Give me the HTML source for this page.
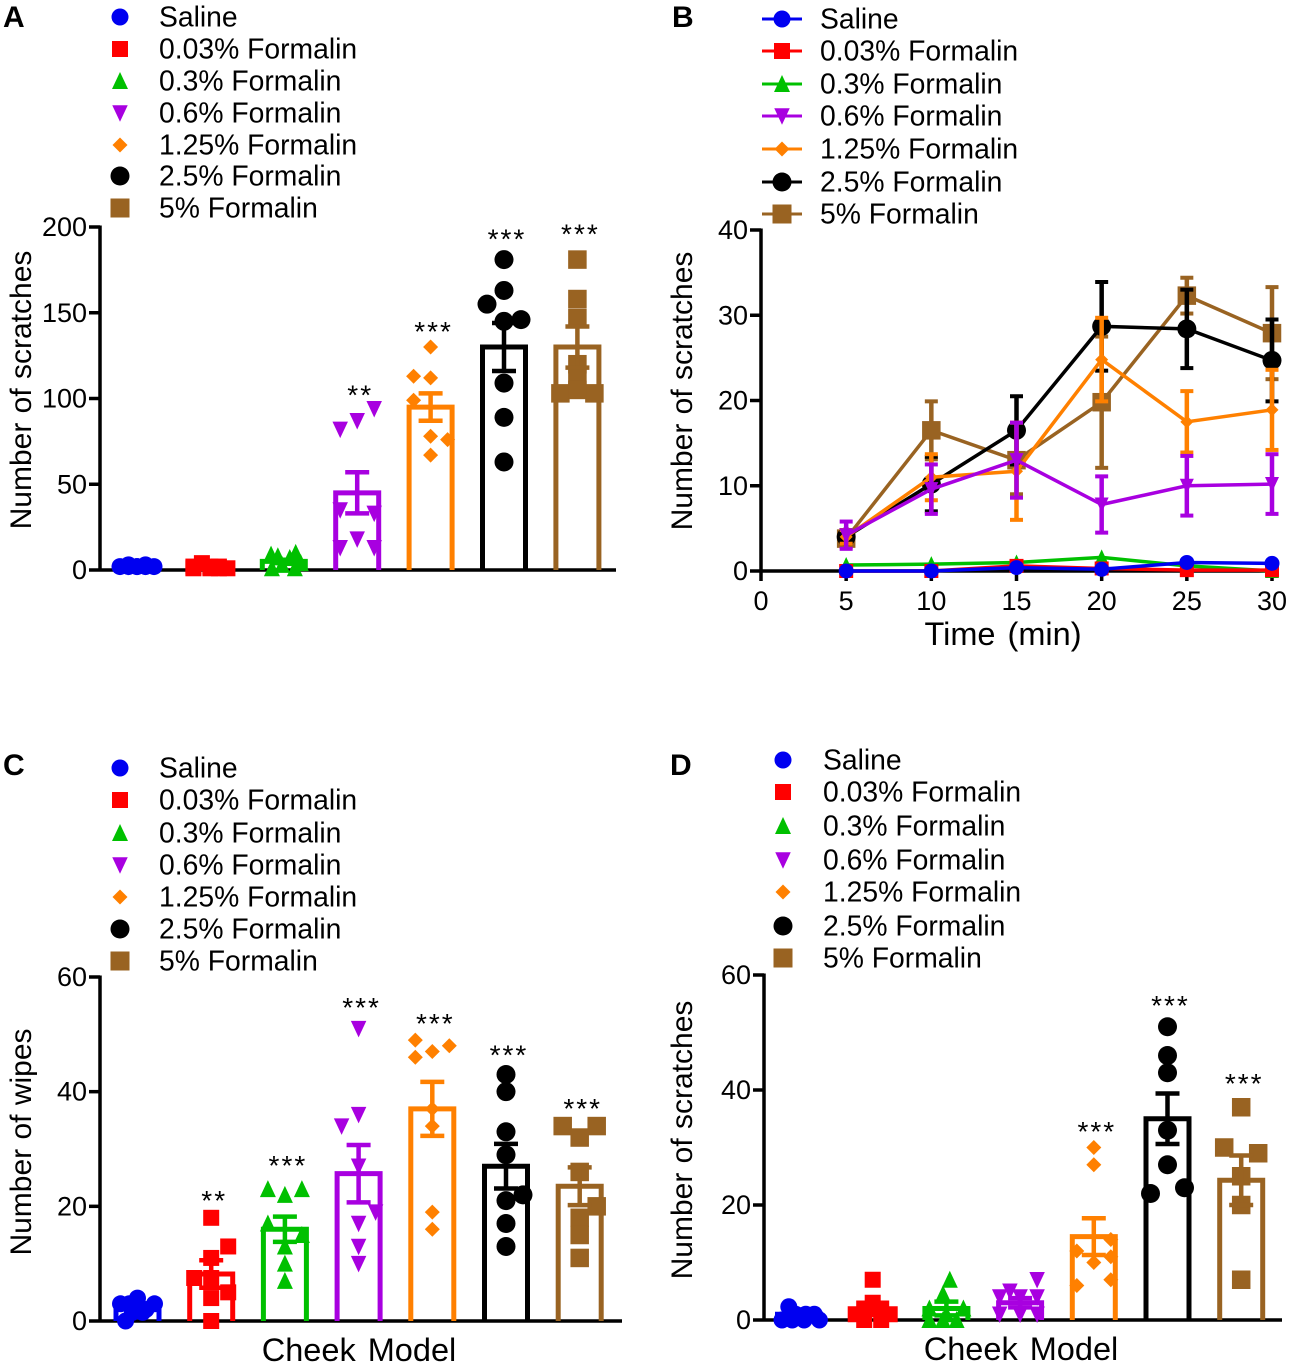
<!DOCTYPE html>
<html lang="en">
<head>
<meta charset="utf-8">
<title>Formalin dose response</title>
<style>
html,body{margin:0;padding:0;background:#fff;}
svg{display:block;font-family:"Liberation Sans",Arial,sans-serif;}
</style>
</head>
<body>
<svg id="figure" xmlns="http://www.w3.org/2000/svg" width="1299" height="1372" viewBox="0 0 1299 1372">
  <rect x="0" y="0" width="1299" height="1372" fill="#fff"/>
  <g id="panel-a"></g>
  <g id="panel-b"></g>
  <g id="panel-c"></g>
  <g id="panel-d"></g>
</svg>
<script>
// ---------- shared categories ----------
const categories = ["Saline","0.03% Formalin","0.3% Formalin","0.6% Formalin","1.25% Formalin","2.5% Formalin","5% Formalin"];

// ---------- panel A ----------
const panelAMeans = [2, 2, 5, 45, 95, 130, 130];
const panelASems = [0.3, 0.5, 1, 12, 8, 14, 12];
const panelAPoints = [
  [2,3,2,3,2,2,2,2],
  [4,2,2,2,1,1,1,1],
  [9,8,7,10,4,3,1,1],
  [94,87,82,35,33,18,13,13],
  [130,113,112,99,78,76,67],
  [181,163,155,145,146,109,89,63],
  [181,158,147,120,112,103,103,105]
];
const panelASlots = [
  [-1,-0.5,0,0.5,1,-0.5,0,0.5],
  [-0.5,-1,0,0.5,1,-1,0,0.5],
  [-0.75,-0.35,0.35,0.7,1,-0.1,-0.7,0.65],
  [1,0,-1,-1,1,0,-1,1],
  [0,-1,0,-1,0,1,0],
  [0,0,-1,0,1,0,0,0],
  [0,0,0,0,0,-1,1,0]
];
const panelAStarLabels = ["","","","**","***","***","***"];
const panelAStarLevels = [0,0,0,104,141,195,198];
const panelATicks = [0,50,100,150,200];

// ---------- panel B ----------
const timePoints = [5,10,15,20,25,30];
const timeTicks = [0,5,10,15,20,25,30];
const panelBTicks = [0,10,20,30,40];
const panelBMeans = [
  [0,0,0.4,0.2,1,0.9],
  [0,0,0.6,0.3,0.1,0.1],
  [0.7,0.8,1,1.6,0.6,0],
  [4.2,9.6,13,7.8,10,10.2],
  [4,11,11.7,24.8,17.5,18.9],
  [4,10.2,16.5,28.7,28.4,24.7],
  [3.8,16.5,13,19.8,32.3,27.9]
];
const panelBSems = [
  [0,0,0,0,0,0],
  [0,0,0,0,0,0],
  [0,0,0,0,0,0],
  [1.6,2.9,4.4,3.3,3.5,3.5],
  [0.8,2.7,5.7,4.9,3.6,4.7],
  [0.8,3.2,4,5.2,4.6,4.8],
  [1,3.4,4,7.7,2.1,5.4]
];

// ---------- panel C ----------
const panelCMeans = [2.5, 8.2, 16, 25.7, 37, 27, 23.5];
const panelCSems = [0.5, 2.4, 2.2, 5, 4.7, 3.9, 3.3];
const panelCPoints = [
  [4,3,3,3,2,1.5,1.5,0],
  [18,13,11,7.5,7.5,5,4,0],
  [23,23,22,17,15,13,10,7],
  [51,36,34,27,19,17,13,10],
  [49,48,47,46,37,34,19,16],
  [43,40,33,29,22,21,17,13],
  [34,34,32,26,20,18,15,11]
];
const panelCSlots = [
  [0,-1,1,-0.5,0.5,-0.3,0.3,-0.7],
  [0,1,0,-1,0,1,0,0],
  [-1,1,0,-1,1,0,0,0],
  [0,0,-1,0,1,0,0,0],
  [-1,1,0,-1,0,0,0,0],
  [0,0,0,0,1,0,0,0],
  [-1,1,0,0,1,0,0,0]
];
const panelCStarLabels = ["","**","***","***","***","***","***"];
const panelCStarLevels = [0,21.6,27.7,55.3,52.5,47,37.7];
const panelCTicks = [0,20,40,60];

// ---------- panel D ----------
const panelDMeans = [1, 1.5, 2, 3, 14.5, 35, 24.3];
const panelDSems = [0.3, 0.6, 1.2, 0.8, 3.2, 4.4, 4.3];
const panelDPoints = [
  [2.3,1,1,1,0,0,0,0],
  [7,3,2,2,1,1,0,0],
  [7,4.5,2,2,0,0,0,1],
  [7,5,4,4,4,1,1,1],
  [30,27,14,12,11,10,6,7],
  [51,46,43,33,27,22,23],
  [37,30,29,25,20,7]
];
const panelDSlots = [
  [-0.6,-0.2,0.4,0.9,-1,-0.4,0.3,1.2],
  [0,0,-0.5,0.5,-1,1,-0.5,0.5],
  [0.2,-0.2,-1,1,-1,-0.2,0.6,0],
  [1,-0.6,-1.2,0,1,-1.2,0,1],
  [0,0,1,-1,1,0,-1,1],
  [0,0,0,0,0,-1,1],
  [0,-1,1,0,0,0]
];
const panelDStarLabels = ["","","","","***","***","***"];
const panelDStarLevels = [0,0,0,0,33.4,55.3,41.7];
const panelDTicks = [0,20,40,60];

// ---------- styling lookups ----------
const seriesColors = ["#0000f0","#ff0000","#00c000","#a800e0","#ff8000","#000000","#996322"];
const seriesShapes = ["circle","square","up","down","diamond","circle","square"];
const seriesMarkerSizes = [17,16,16,15.5,15,19,18.5];

const SVGNS = "http://www.w3.org/2000/svg";
function svgEl(tag, attrs, parent){
  const el = document.createElementNS(SVGNS, tag);
  for (const k in attrs) el.setAttribute(k, attrs[k]);
  parent.appendChild(el);
  return el;
}
function slug(s){ return s.toLowerCase().replace(/%/g,"-pct").replace(/[^a-z0-9]+/g,"-"); }

function markerAttrs(shape, cx, cy, size, color){
  const h = size/2;
  if (shape === "circle") return {tag:"circle", a:{cx:cx, cy:cy, r:h, fill:color}};
  if (shape === "square") return {tag:"rect", a:{x:cx-h, y:cy-h, width:size, height:size, fill:color}};
  let pts;
  if (shape === "up") pts = [[cx,cy-h-1],[cx+h,cy+h],[cx-h,cy+h]];
  else if (shape === "down") pts = [[cx-h,cy-h],[cx+h,cy-h],[cx,cy+h+1]];
  else pts = [[cx,cy-h],[cx+h,cy],[cx,cy+h],[cx-h,cy]];
  return {tag:"polygon", a:{points:pts.map(p=>p.join(",")).join(" "), fill:color}};
}
function drawMarker(parent, i, cx, cy, size, name){
  const m = markerAttrs(seriesShapes[i], cx, cy, size, seriesColors[i]);
  const el = svgEl(m.tag, m.a, parent);
  
  
  return el;
}
function drawText(parent, str, x, y, size, anchor, name, extra){
  const attrs = {x:x, y:y, "font-size":size, "text-anchor":anchor, fill:"#000"};
  if (extra) for (const k in extra) attrs[k] = extra[k];
  const t = svgEl("text", attrs, parent);
  t.textContent = str;
  
  
  return t;
}
function drawLine(parent, x1, y1, x2, y2, color, width, name){
  const l = svgEl("line", {x1:x1,y1:y1,x2:x2,y2:y2,stroke:color,"stroke-width":width}, parent);
  
  
  return l;
}

function drawLegend(parent, cfg){
  const lg = svgEl("g", {}, parent);
  
  
  categories.forEach(function(cat, i){
    const cy = cfg.rowY[i];
    const row = svgEl("g", {}, lg);
    
    
    if (cfg.withLine) {
      drawLine(row, cfg.markerX-20, cy, cfg.markerX+20, cy, seriesColors[i], 3, 'legend-line-' + slug(cat));
    }
    const size = (i === 5 ? 19 : i === 6 ? 19 : seriesMarkerSizes[i]);
    drawMarker(row, i, cfg.markerX, cy, size, 'legend-marker-' + slug(cat));
    drawText(row, cat, cfg.textX, cy + 9.5, 28.3, "start", 'legend-label-' + slug(cat));
  });
}

function drawYAxis(parent, cfg, yScale, ticks){
  const g = svgEl("g", {}, parent);
  
  
  drawLine(g, cfg.axisX, yScale(cfg.yMax)-1.5, cfg.axisX, cfg.y0+1.5, "#000", 3.5, 'y-axis-line');
  ticks.forEach(function(t){
    const y = yScale(t);
    drawLine(g, cfg.axisX-11, y, cfg.axisX, y, "#000", 3.5, 'y-tick-' + t);
    drawText(g, String(t), cfg.axisX-13, y+9, 27, "end", 'y-tick-label-' + t);
  });
  drawText(g, cfg.yTitle, 0, 0, 30, "middle", 'y-axis-title', {
    transform: "translate(" + cfg.titleX + "," + cfg.titleY + ") rotate(-90)",
    "word-spacing": cfg.titleSpacing
  });
}

function drawBarPanel(cfg, means, sems, points, slots, starLabels, starLevels, ticks){
  const root = document.getElementById(cfg.id);
  const yScale = function(v){ return cfg.y0 - v / cfg.yMax * (cfg.y0 - cfg.yTop); };
  const xScale = function(i){ return cfg.first + cfg.step * i; };

  drawText(root, cfg.letter, cfg.letterX, cfg.letterY, 30, "start", 'panel-letter', {"font-weight":"bold"});
  drawLegend(root, cfg.legend);
  drawYAxis(root, cfg, yScale, ticks);
  drawLine(root, cfg.axisX, cfg.y0, cfg.xEnd, cfg.y0, "#000", 3.5, 'x-axis-line');
  if (cfg.xTitle) {
    drawText(root, cfg.xTitle, cfg.xTitleX, cfg.xTitleY, 32.5, "middle", 'x-axis-title', {"word-spacing":"3px"});
  }

  means.forEach(function(m, i){
    const cx = xScale(i);
    const color = seriesColors[i];
    const g = svgEl("g", {}, root);
    
    

    const hw = 21.5;
    const top = yScale(m);
    const bar = svgEl("path", {
      d: "M" + (cx-hw) + " " + cfg.y0 + "V" + top + "H" + (cx+hw) + "V" + cfg.y0,
      fill: "none", stroke: color, "stroke-width": 5
    }, g);
    
    

    points[i].forEach(function(v, j){
      const px = cx + slots[i][j] * 17;
      drawMarker(g, i, px, yScale(v), seriesMarkerSizes[i], 'point-' + slug(categories[i]));
    });

    const hi = yScale(m + sems[i]);
    const lo = yScale(m - sems[i]);
    drawLine(g, cx, hi, cx, lo, color, 4.5, 'error-bar-' + slug(categories[i]));
    drawLine(g, cx-12, hi, cx+12, hi, color, 4.5, 'error-cap-top-' + slug(categories[i]));
    drawLine(g, cx-12, lo, cx+12, lo, color, 4.5, 'error-cap-bottom-' + slug(categories[i]));

    if (starLabels[i]) {
      drawText(g, starLabels[i], cx + 3, yScale(starLevels[i]) + 13, 28, "middle", 'significance-' + slug(categories[i]), {"letter-spacing":"2px"});
    }
  });
}

function drawLinePanel(){
  const cfg = {
    id:"panel-b", letter:"B", letterX:672, letterY:27, axisX:761, y0:571, yTop:230, yMax:40,
    yTitle:"Number of scratches", titleX:692, titleY:391, titleSpacing:"1px",
    legend:{markerX:782, textX:820, withLine:true, rowY:[19,51,84,116,149,182,214]}
  };
  const root = document.getElementById(cfg.id);
  const yScale = function(v){ return cfg.y0 - v / cfg.yMax * (cfg.y0 - cfg.yTop); };
  const xScale = function(t){ return cfg.axisX + t / 30 * 511; };

  drawText(root, cfg.letter, cfg.letterX, cfg.letterY, 30, "start", 'panel-letter', {"font-weight":"bold"});
  drawLegend(root, cfg.legend);
  drawYAxis(root, cfg, yScale, panelBTicks);

  const xg = svgEl("g", {}, root);
  
  
  drawLine(xg, cfg.axisX, cfg.y0, xScale(30)+2, cfg.y0, "#000", 3.5, 'x-axis-line');
  timeTicks.forEach(function(t){
    const x = xScale(t);
    drawLine(xg, x, cfg.y0, x, cfg.y0+10, "#000", 3.5, 'x-tick-' + t);
    drawText(xg, String(t), x, 610, 27, "middle", 'x-tick-label-' + t);
  });
  drawText(xg, "Time (min)", 1003, 645, 32.5, "middle", 'x-axis-title', {"word-spacing":"3px"});

  for (let i = categories.length - 1; i >= 0; i--) {
    const color = seriesColors[i];
    const g = svgEl("g", {}, root);
    
    
    const pts = panelBMeans[i].map(function(v, j){ return xScale(timePoints[j]) + "," + yScale(v); }).join(" ");
    const line = svgEl("polyline", {points:pts, fill:"none", stroke:color, "stroke-width":3.5}, g);
    
    
    panelBMeans[i].forEach(function(v, j){
      const x = xScale(timePoints[j]);
      const s = panelBSems[i][j];
      if (s > 0) {
        const hi = yScale(v + s), lo = yScale(v - s);
        drawLine(g, x, hi, x, lo, color, 4.5, 'error-bar-' + slug(categories[i]));
        drawLine(g, x-6.5, hi, x+6.5, hi, color, 4, 'error-cap-top-' + slug(categories[i]));
        drawLine(g, x-6.5, lo, x+6.5, lo, color, 4, 'error-cap-bottom-' + slug(categories[i]));
      }
      const size = i === 5 ? 19 : i === 6 ? 18.5 : i === 0 ? 15 : i === 1 ? 14 : i === 4 ? 13 : 14;
      drawMarker(g, i, x, yScale(v), size, 'point-' + slug(categories[i]));
    });
  }
}

drawBarPanel({
  id:"panel-a", letter:"A", letterX:3, letterY:27, axisX:100, y0:570, yTop:227, yMax:200, xEnd:616,
  first:137, step:73.4, yTitle:"Number of scratches", titleX:31, titleY:390, titleSpacing:"1px",
  legend:{markerX:120, textX:159, withLine:false, rowY:[17,49,81,113,145,176,208]}
}, panelAMeans, panelASems, panelAPoints, panelASlots, panelAStarLabels, panelAStarLevels, panelATicks);

drawLinePanel();

drawBarPanel({
  id:"panel-c", letter:"C", letterX:3, letterY:775, axisX:100, y0:1321, yTop:977, yMax:60, xEnd:622,
  first:137.5, step:73.7, yTitle:"Number of wipes", titleX:31, titleY:1142, titleSpacing:"1px",
  xTitle:"Cheek Model", xTitleX:359, xTitleY:1361,
  legend:{markerX:120, textX:159, withLine:false, rowY:[768,800,833,865,897,929,961]}
}, panelCMeans, panelCSems, panelCPoints, panelCSlots, panelCStarLabels, panelCStarLevels, panelCTicks);

drawBarPanel({
  id:"panel-d", letter:"D", letterX:670, letterY:775, axisX:764, y0:1320, yTop:975, yMax:60, xEnd:1282,
  first:799, step:73.7, yTitle:"Number of scratches", titleX:692, titleY:1140, titleSpacing:"1px",
  xTitle:"Cheek Model", xTitleX:1021, xTitleY:1360,
  legend:{markerX:783, textX:823, withLine:false, rowY:[760,792,826,860,892,926,958]}
}, panelDMeans, panelDSems, panelDPoints, panelDSlots, panelDStarLabels, panelDStarLevels, panelDTicks);
</script>
</body>
</html>
